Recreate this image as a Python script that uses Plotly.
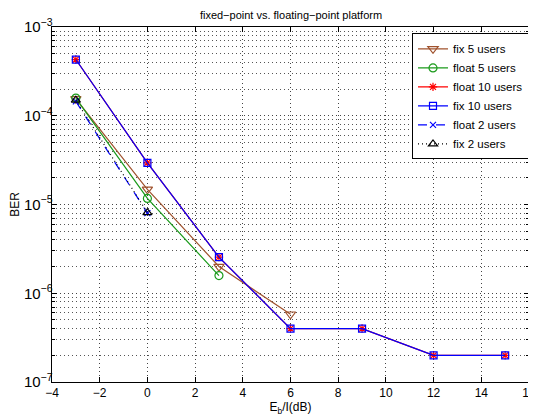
import plotly.graph_objects as go

# Data
x_fix5 = [-3, 0, 3, 6]
ber_fix5 = [1.55e-4, 1.48e-5, 2.0e-6, 5.8e-7]
x_float5 = [-3, 0, 3]
ber_float5 = [1.58e-4, 1.17e-5, 1.58e-6]
x_float10 = [-3, 0, 3, 6, 9, 12, 15]
ber_float10 = [4.3e-4, 2.95e-5, 2.55e-6, 4.0e-7, 4.0e-7, 2.0e-7, 2.0e-7]
x_fix10 = [-3, 0, 3, 6, 9, 12, 15]
ber_fix10 = [4.3e-4, 2.95e-5, 2.55e-6, 4.0e-7, 4.0e-7, 2.0e-7, 2.0e-7]
x_float2 = [-3, 0]
ber_float2 = [1.45e-4, 8.0e-6]
x_fix2 = [-3, 0]
ber_fix2 = [1.5e-4, 8.1e-6]

x_ticks = [-4, -2, 0, 2, 4, 6, 8, 10, 12, 14, 16]

brown = "#A0522D"
green = "#1A9A1A"
red = "#FF0000"
blue = "#0000FF"

fig = go.Figure()

def add(x, y, name, color, symbol, dash="solid", size=8):
    fig.add_trace(go.Scatter(
        x=x, y=y, name=name, mode="lines+markers",
        line=dict(color=color, width=1.2, dash=dash),
        marker=dict(symbol=symbol, size=size, color=color,
                    line=dict(color=color, width=1.2)),
    ))

add(x_fix5, ber_fix5, "fix 5 users", brown, "triangle-down-open", size=9)
add(x_float5, ber_float5, "float 5 users", green, "circle-open", size=8)
add(x_float10, ber_float10, "float 10 users", red, "asterisk-open", size=7)
add(x_fix10, ber_fix10, "fix 10 users", blue, "square-open", size=7)
add(x_float2, ber_float2, "float 2 users", blue, "x-thin-open", dash="dash", size=6)
add(x_fix2, ber_fix2, "fix 2 users", "black", "triangle-up-open", dash="1px,3px", size=8)

grid_dash = "1px,3px"

# page body has an 8px default margin, so the figure is drawn 8px in
W, H = 528, 410
fig.update_layout(
    width=W, height=H,
    margin=dict(l=44, r=7, t=19, b=36, autoexpand=False),
    paper_bgcolor="white", plot_bgcolor="white",
    font=dict(family="Liberation Sans, Arial, sans-serif", size=12, color="black"),
    title=dict(text="fixed−point vs. floating−point platform", x=(291 - 8) / W, xanchor="center",
               y=1 - 7 / H, yanchor="middle", font=dict(size=11)),
    showlegend=True,
    legend=dict(x=1.0, y=0.982, xanchor="right", yanchor="top",
                bgcolor="white", bordercolor="black", borderwidth=1,
                font=dict(size=11.5), tracegroupgap=0, itemwidth=30),
)

fig.update_xaxes(
    range=[-4, 16], tickvals=x_ticks, ticktext=[str(v).replace("-", "−") for v in x_ticks],
    showline=True, linecolor="black", linewidth=1, mirror="ticks",
    ticks="inside", ticklen=5, tickcolor="black",
    showgrid=True, gridcolor="#444444", griddash=grid_dash, gridwidth=1,
    zeroline=False, automargin=False,
    title=dict(text="E<sub>b</sub>/I(dB)", standoff=0, font=dict(size=12)),
)
fig.update_yaxes(
    type="log", range=[-7, -3], dtick=1, exponentformat="power", showexponent="all",
    showline=True, linecolor="black", linewidth=1, mirror="ticks",
    ticks="inside", ticklen=5, tickcolor="black", ticklabelstandoff=-4,
    showgrid=True, gridcolor="#444444", griddash=grid_dash, gridwidth=1,
    minor=dict(ticks="inside", ticklen=3, tickcolor="black", showgrid=True,
               gridcolor="#555555", griddash=grid_dash, gridwidth=1),
    zeroline=False, automargin=False,
    title=dict(text="BER", standoff=8, font=dict(size=12)),
)

fig.write_html("out.html")
